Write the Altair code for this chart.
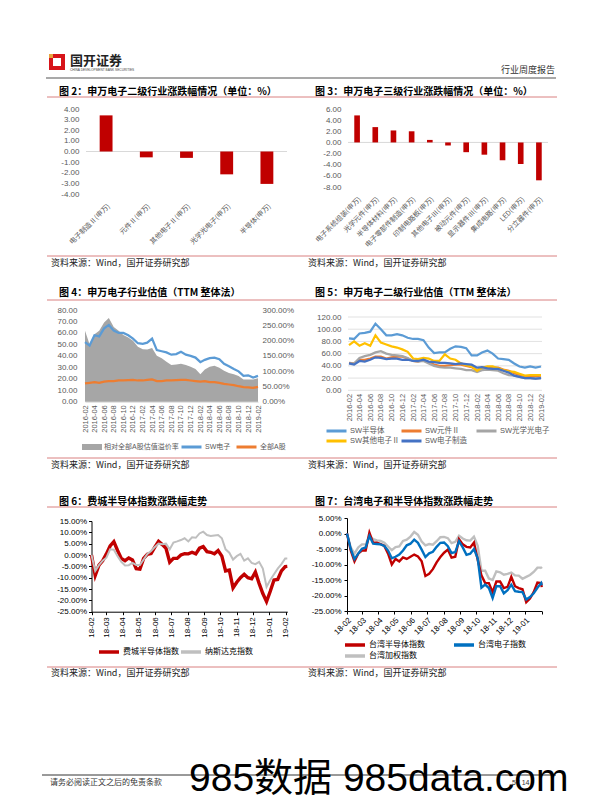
import altair as alt
import pandas as pd

W, H = 580, 792


def px(x):
    return x - 8


def py(y):
    return y - 8


CJK = "Noto Sans CJK SC"
LAT = "Liberation Sans, Noto Sans CJK SC"
TXT_GRAY = "#595959"
BAR_RED = "#C00000"
ACCENT = "#D98080"

# ---------------- texts ----------------
HEADER_NAME = "国开证券"
HEADER_SUB = "CHINA DEVELOPMENT BANK SECURITIES"
HEADER_RIGHT = "行业周度报告"
TITLE2 = "图 2：申万电子二级行业涨跌幅情况（单位：%）"
TITLE3 = "图 3：申万电子三级行业涨跌幅情况（单位：%）"
TITLE4 = "图 4：申万电子行业估值（TTM 整体法）"
TITLE5 = "图 5：申万电子二级行业估值（TTM 整体法）"
TITLE6 = "图 6：费城半导体指数涨跌幅走势"
TITLE7 = "图 7：台湾电子和半导体指数涨跌幅走势"
SOURCE = "资料来源：Wind，国开证券研究部"
FOOTER = "请务必阅读正文之后的免责条款"
PAGE_NO = "5 / 14"
WATERMARK = "985数据 985data.com"

# ---------------- data: fig 2 ----------------
fig2_cats = ["电子制造Ⅱ(申万)", "元件Ⅱ(申万)", "其他电子Ⅱ(申万)", "光学光电子(申万)", "半导体(申万)"]
fig2_vals = [3.40, -0.55, -0.60, -2.15, -3.05]

# ---------------- data: fig 3 ----------------
fig3_cats = ["电子系统组装(申万)", "光学元件(申万)", "半导体材料(申万)", "电子零部件制造(申万)",
             "印制电路板(申万)", "其他电子Ⅲ(申万)", "被动元件(申万)", "显示器件Ⅲ(申万)",
             "集成电路(申万)", "LED(申万)", "分立器件(申万)"]
fig3_vals = [4.85, 2.75, 2.15, 2.00, 0.45, -0.55, -1.75, -2.20, -3.20, -3.85, -6.80]

# ---------------- data: fig 4 / fig 5 (monthly, 2016-02 .. 2019-02) ----------------
months = [f"{2016 + (1 + i) // 12}-{(1 + i) % 12 + 1:02d}-01" for i in range(37)]
month_ticks = months[::2]

fig4_names = ["相对全部A股估值溢价率", "SW电子", "全部A股"]
fig4_prem = [232, 188, 221, 232, 259, 274, 244, 232, 218, 210,
             199, 180, 172, 171, 176, 150, 142, 131, 120, 122,
             124, 120, 114, 107, 90, 105, 114, 118, 111, 101,
             94, 90, 84, 73, 73, 73, 77]
fig4_sw = [52, 49, 58, 57, 64, 67, 62, 60, 60, 58,
           55, 51, 50.5, 51.5, 55, 45, 44, 43, 41, 41.5,
           43.5, 41, 40, 38.5, 34.5, 36.5, 38, 38.5, 37, 33,
           31, 28.5, 26.5, 22.5, 23, 21, 22.5]
fig4_all = [16, 16.5, 17, 16.5, 17.5, 18, 18, 18.5, 18.5, 18.8,
            19, 18.5, 18.5, 19, 19.5, 18, 18, 18.5, 18.5, 18.8,
            19, 19, 18.5, 18, 17.5, 18, 17, 17, 16.5, 15.5,
            15, 14.5, 13.5, 12.8, 12.5, 12, 13]

fig5_names = ["SW半导体", "SW元件Ⅱ", "SW光学光电子", "SW其他电子Ⅱ", "SW电子制造"]
fig5_colors = ["#5B9BD5", "#ED7D31", "#A5A5A5", "#FFC000", "#4472C4"]
fig5_semi = [85, 84, 93, 94, 96, 109, 100, 90, 90, 92,
             90, 86, 84, 84, 82, 70, 61, 62, 62, 68,
             72, 71, 69, 57, 57, 62, 65, 60, 52, 51,
             50, 44, 39, 37, 39, 37, 39]
fig5_comp = [45, 44, 50, 50, 52, 55, 55, 52, 54, 55,
             55, 52, 48, 47, 50, 46, 42, 40, 40, 41,
             42, 42, 40, 38, 33, 37, 38, 37, 37, 34,
             32, 28, 25, 23, 22, 23, 24]
fig5_optic = [44, 44, 53, 56, 58, 62, 64, 60, 58, 57,
              56, 53, 48, 47, 48, 44, 40, 38, 37, 37,
              36, 35, 33, 33, 30, 33, 34, 33, 32, 28,
              25, 24, 22, 20, 20, 19, 20]
fig5_other = [74, 80, 73, 77, 73, 90, 78, 75, 72, 70,
              67, 63, 52, 51, 53, 52, 48, 48, 59, 52,
              50, 44, 41, 39, 32, 37, 39, 39, 36, 33,
              31, 30, 27, 24, 25, 25, 25]
fig5_manuf = [44, 42, 48, 47, 50, 54, 53, 51, 52, 52,
              50, 50, 48, 48, 50, 47, 46, 45, 45, 44,
              43, 44, 43, 42, 37, 38, 36, 35, 35, 32,
              29, 24, 22, 20, 20, 19, 20]
fig5_grid = [0, 20, 40, 60, 80, 100, 120]

# ---------------- data: fig 6 / fig 7 (weekly, 2018-02 .. 2019-02) ----------------
weeks = [d.strftime("%Y-%m-%d") for d in pd.date_range("2018-02-01", periods=53, freq="7D")]
dates6 = weeks + ["2019-02-04"]
dates7 = weeks + ["2019-02-01"]
mticks = [f"{2018 + (1 + i) // 12}-{(1 + i) % 12 + 1:02d}-01" for i in range(13)]

fig6_names = ["费城半导体指数", "纳斯达克指数"]
fig6_sox = [0, -9, -4.5, -2.6, 0.5, 4, 5.9, 2, -1.5, -2.5,
            -1.3, -2.2, -6, -6.2, -1.5, 0.3, 0.7, 3.5, 6, 4.6,
            3, -3.2, -1.5, -1.5, 0, 0.6, 0.5, 1.2, 0.5, 3,
            3.7, 1.5, 1.2, 0.5, 2, -0.5, -7, -6.6, -14.5, -12,
            -10, -8.5, -10, -10.5, -7.5, -12.5, -17, -20.5, -16, -11,
            -10.8, -7, -5.1, -5]
fig6_ndx = [0, -7, -4.5, -2.5, -1.2, 2.5, 2.3, -0.5, -3, -4.6,
            -4.5, -3.5, -4.4, -4.4, -2, 0.5, 1.8, 3.5, 5, 4.7,
            5, 2.5, 5.5, 6, 6.6, 7.4, 6, 7.8, 7.6, 9.5,
            10.3, 8.8, 8.4, 8.6, 8.8, 7.4, 2.5, 1, -2, -0.5,
            0.5, -2.5, -1.5, -3.5, -4, -3, -6, -14, -11, -8.5,
            -6, -4, -1.5, -1.5]

fig7_names = ["台湾半导体指数", "台湾电子指数", "台湾加权指数"]
fig7_semi = [0, -5.5, -9, -6.5, -5.5, -5.5, 0.3, -3, -3, -3.4,
             -4, -6.5, -10, -8.2, -9, -7.7, -8.2, -7.5, -6.8, -7.4,
             -9, -13.7, -13, -11.5, -9.3, -7.6, -6.2, -5.2, -7.8, -7.5,
             -1.8, -3.5, -4.3, -4.5, -2.9, -8.5, -13.5, -16, -16, -18.9,
             -15.5, -15.5, -17.6, -17.2, -14, -17, -17.6, -18, -22.2, -21,
             -18.9, -15.8, -16, -17.3]
fig7_elec = [0, -5, -8.3, -6.5, -4.9, -4.5, -0.8, -3.3, -3.4, -3.5,
             -4, -5.5, -8, -7.5, -6.8, -5.5, -3.8, -3.3, -2, -3,
             -5.2, -7.6, -6.4, -5.9, -4.3, -3, -2.9, -4.1, -6.3, -6,
             -2.5, -4.5, -6.9, -6.5, -5, -8, -17.5, -16.5, -17.6, -20.8,
             -17, -17, -19.3, -18.3, -16.5, -18.6, -18.8, -18.9, -21.3, -20.5,
             -19.3, -17.5, -16, -16.7]
fig7_taiex = [0, -4.5, -6.5, -4.5, -3.5, -3.5, -0.7, -1.8, -2.2, -2.4,
              -3, -4.2, -5.4, -4.4, -4.2, -2.4, -2, -1, 0.5, -0.4,
              -2.6, -3.8, -3.4, -3.6, -2.5, -1.2, -1.1, -1.5, -3.1, -2.7,
              -0.7, -1.6, -2.2, -2.3, -1, -4, -12, -12, -14.5, -15,
              -12.2, -12.5, -13.3, -13, -12.6, -13.5, -13.6, -14.6, -14, -13.4,
              -12.4, -11, -11, -11.3]

NUM = "(datum.value < 0 ? '-' : '') + format(abs(datum.value), '.2f')"
PCT = NUM + " + '%'"
ONE = [{"k": 0}]


def dt(s):
    y, m, d = (int(v) for v in s.split("-"))
    return alt.DateTime(year=y, month=m, date=d, utc=True)


# ---------------- decoration helpers ----------------
def label(text, x, y, size, color="#000000", bold=False, font=CJK, align="left", baseline="middle"):
    return alt.Chart(alt.Data(values=[{"t": text}])).mark_text(
        align=align, baseline=baseline, font=font, fontSize=size, color=color,
        fontWeight="bold" if bold else "normal",
    ).encode(x=alt.value(px(x)), y=alt.value(py(y)), text="t:N")


def hline(x1, x2, y, color, width):
    return alt.Chart(alt.Data(values=ONE)).mark_rule(color=color, strokeWidth=width).encode(
        x=alt.value(px(x1)), x2=alt.value(px(x2)), y=alt.value(py(y)))


def box(x1, y1, x2, y2, color):
    return alt.Chart(alt.Data(values=ONE)).mark_rect(color=color).encode(
        x=alt.value(px(x1)), x2=alt.value(px(x2)), y=alt.value(py(y1)), y2=alt.value(py(y2)))


def legend(x, ycenter, cols, colpad, rowpad=1, size=8, color="#000000", sw=3,
           symtype="stroke", clip=9):
    return alt.Legend(orient="none", legendX=px(x), legendY=py(ycenter) - clip / 2,
                      direction="horizontal", columns=cols, title=None, symbolType=symtype,
                      symbolSize=400, symbolStrokeWidth=sw, labelFont=LAT, labelFontSize=size,
                      labelColor=color, labelOffset=2, columnPadding=colpad, rowPadding=rowpad,
                      clipHeight=clip, padding=0, gridAlign="all", symbolOpacity=1)


# ---------------- bar panels (flat layers, identical scales) ----------------
def bar_panel(cats, vals, x0, x1, ytop, ybot, dmin, dmax, step, pin):
    df = pd.DataFrame({"cat": cats, "val": vals})
    yscale = alt.Scale(domain=[dmin, dmax], range=[py(ybot), py(ytop)], nice=False)
    xscale = alt.Scale(domain=cats, range=[px(x0), px(x1)], paddingInner=pin, paddingOuter=pin / 2)
    yax = alt.Axis(orient="left", offset=-px(x0), values=list(range(dmin, dmax + 1, step)),
                   labelExpr=NUM, domain=False, ticks=False, grid=False, labelPadding=7,
                   labelFont=LAT, labelFontSize=8, labelColor=TXT_GRAY, title=None)
    xax = alt.Axis(orient="bottom", offset=py(ybot) - H, labelAngle=-45, domain=False,
                   ticks=False, grid=False, labelPadding=8, labelFont=CJK, labelFontSize=7,
                   labelColor=TXT_GRAY, title=None, labelOverlap=False)
    zero = alt.Chart(pd.DataFrame({"val": [0]})).mark_rule(color="#D9D9D9", strokeWidth=1).encode(
        y=alt.Y("val:Q", scale=yscale, axis=None), x=alt.value(px(x0)), x2=alt.value(px(x1)))
    bars = alt.Chart(df).mark_bar(color=BAR_RED).encode(
        x=alt.X("cat:N", sort=cats, scale=xscale, axis=xax),
        y=alt.Y("val:Q", scale=yscale, axis=yax))
    return [zero, bars]


fig2 = bar_panel(fig2_cats, fig2_vals, 86, 287, 109, 194, -4, 4, 1, 0.68)
fig3 = bar_panel(fig3_cats, fig3_vals, 348, 548, 109, 187, -8, 6, 2, 0.69)

# ---------------- fig 4 ----------------
x4scale = alt.Scale(type="utc", domain=[dt(months[0]), dt(months[-1])], range=[px(85), px(258)], nice=False)
x4axis = alt.Axis(orient="bottom", offset=py(401.7) - H, values=[dt(d) for d in month_ticks],
                  labelExpr="utcFormat(datum.value, '%Y-%m')", labelAngle=-90, labelOverlap=False,
                  labelFlush=False, ticks=False, domainColor="#D9D9D9", grid=False, labelPadding=3,
                  labelFont=LAT, labelFontSize=7.5, labelColor=TXT_GRAY, title=None)

df4a = pd.DataFrame({"date": months, "prem": fig4_prem, "name": fig4_names[0]})
area4 = alt.Chart(df4a).mark_area(opacity=1).encode(
    x=alt.X("date:T", scale=x4scale, axis=None),
    y=alt.Y("prem:Q", scale=alt.Scale(domain=[0, 300], range=[py(401.7), py(310)], nice=False),
            axis=alt.Axis(orient="right", offset=px(259) - W, values=list(range(0, 301, 50)),
                          labelExpr=PCT, domain=False, ticks=False, grid=False, labelPadding=3,
                          labelFont=LAT, labelFontSize=8, labelColor=TXT_GRAY, title=None)),
    fill=alt.Fill("name:N", scale=alt.Scale(domain=[fig4_names[0]], range=["#A6A6A6"]),
                  legend=legend(82, 447, 1, 4, size=7, color=TXT_GRAY, sw=0,
                                symtype="M-1,-0.3H1V0.3H-1Z")),
)

df4l = pd.DataFrame({"date": months * 2, "val": fig4_sw + fig4_all,
                     "series": [fig4_names[1]] * 37 + [fig4_names[2]] * 37})
lines4 = alt.Chart(df4l).mark_line(strokeWidth=2.25).encode(
    x=alt.X("date:T", scale=x4scale, axis=x4axis),
    y=alt.Y("val:Q", scale=alt.Scale(domain=[0, 80], range=[py(401.7), py(310)], nice=False),
            axis=alt.Axis(orient="left", offset=-px(83), values=list(range(0, 81, 10)),
                          labelExpr=NUM, domain=False, ticks=False, grid=False, labelPadding=6,
                          labelFont=LAT, labelFontSize=8, labelColor=TXT_GRAY, title=None)),
    stroke=alt.Stroke("series:N", scale=alt.Scale(domain=fig4_names[1:], range=["#5B9BD5", "#ED7D31"]),
                      legend=legend(180, 447, 2, 4, size=7, color=TXT_GRAY, sw=3)),
)

# ---------------- fig 5 ----------------
x5scale = alt.Scale(type="utc", domain=[dt(months[0]), dt(months[-1])], range=[px(349), px(541)], nice=False)
y5scale = alt.Scale(domain=[0, 120], range=[py(390.3), py(317)], nice=False)
x5axis = alt.Axis(orient="bottom", offset=py(390.3) - H, values=[dt(d) for d in month_ticks],
                  labelExpr="utcFormat(datum.value, '%Y-%m')", labelAngle=-90, labelOverlap=False,
                  labelFlush=False, ticks=False, domain=False, grid=False, labelPadding=3,
                  labelFont=LAT, labelFontSize=7.5, labelColor=TXT_GRAY, title=None)
y5axis = alt.Axis(orient="left", offset=-px(347), values=list(range(0, 121, 20)), labelExpr=NUM,
                  domain=False, ticks=False, grid=False, labelPadding=6, labelFont=LAT,
                  labelFontSize=8, labelColor=TXT_GRAY, title=None)
df5 = pd.DataFrame({
    "date": months * 5,
    "val": fig5_semi + fig5_comp + fig5_optic + fig5_other + fig5_manuf,
    "series": sum([[n] * 37 for n in fig5_names], []),
})
grid5 = alt.Chart(pd.DataFrame({"val": fig5_grid})).mark_rule(color="#D9D9D9", strokeWidth=0.8).encode(
    y=alt.Y("val:Q", scale=y5scale, axis=y5axis), x=alt.value(px(348)), x2=alt.value(px(542)))
fig5 = [grid5]
for i, name in enumerate(fig5_names):
    fig5.append(
        alt.Chart(df5).transform_filter(alt.datum.series == name).mark_line(strokeWidth=2.25).encode(
            x=alt.X("date:T", scale=x5scale, axis=x5axis if i == 0 else None),
            y=alt.Y("val:Q", scale=y5scale, axis=None),
            stroke=alt.Stroke("series:N", scale=alt.Scale(domain=fig5_names, range=fig5_colors),
                              legend=legend(325, 431, 3, 0, rowpad=1, size=7.5, color=TXT_GRAY, sw=3)
                              if i == 0 else None),
        ))

# ---------------- fig 6 ----------------
x6scale = alt.Scale(type="utc", domain=[dt(dates6[0]), dt(dates6[-1])], range=[px(91.5), px(287.3)], nice=False)
y6scale = alt.Scale(domain=[-25, 15], range=[py(611.7), py(521)], nice=False)
x6axis = alt.Axis(orient="bottom", offset=py(611.7) - H, values=[dt(d) for d in mticks],
                  labelExpr="utcFormat(datum.value, '%y-%m')", labelAngle=-90, labelOverlap=False,
                  labelFlush=False, ticks=True, tickSize=3, tickColor="#000000", domainColor="#000000",
                  grid=False, labelPadding=2, labelFont=LAT, labelFontSize=8, labelColor="#000000",
                  title=None)
y6axis = alt.Axis(orient="left", offset=-px(91.5), values=list(range(-25, 16, 5)), labelExpr=PCT,
                  ticks=True, tickSize=3, tickColor="#000000", domainColor="#000000", grid=False,
                  labelPadding=2, labelFont=LAT, labelFontSize=8, labelColor="#000000", title=None)
df6 = pd.DataFrame({"date": dates6 * 2, "val": fig6_sox + fig6_ndx,
                    "series": [fig6_names[0]] * len(dates6) + [fig6_names[1]] * len(dates6)})
fig6 = []
for i, (name, w) in enumerate(zip(fig6_names, [3.4, 2.0])):
    fig6.append(
        alt.Chart(df6).transform_filter(alt.datum.series == name).mark_line(strokeWidth=w).encode(
            x=alt.X("date:T", scale=x6scale, axis=x6axis if i == 0 else None),
            y=alt.Y("val:Q", scale=y6scale, axis=y6axis if i == 0 else None),
            stroke=alt.Stroke("series:N", scale=alt.Scale(domain=fig6_names, range=["#C00000", "#BFBFBF"]),
                              legend=legend(97, 652, 2, 0, size=8, sw=3.5) if i == 0 else None),
        ))

# ---------------- fig 7 ----------------
x7scale = alt.Scale(type="utc", domain=[dt(dates7[0]), dt(dates7[-1])], range=[px(347), px(541.7)], nice=False)
y7scale = alt.Scale(domain=[-25, 5], range=[py(611), py(518)], nice=False)
x7axis = alt.Axis(orient="bottom", offset=py(611) - H, values=[dt(d) for d in mticks],
                  labelExpr="utcFormat(datum.value, '%y-%m') == '19-02' ? '' : utcFormat(datum.value, '%y-%m')",
                  labelAngle=-45, labelOverlap=False, labelFlush=False, ticks=True, tickSize=3,
                  tickColor="#000000", domainColor="#000000", grid=False, labelPadding=2,
                  labelFont=LAT, labelFontSize=8, labelColor="#000000", title=None)
y7axis = alt.Axis(orient="left", offset=-px(347), values=list(range(-25, 6, 5)), labelExpr=PCT,
                  ticks=True, tickSize=3, tickColor="#000000", domainColor="#000000", grid=False,
                  labelPadding=3, labelFont=LAT, labelFontSize=8, labelColor="#000000", title=None)
df7 = pd.DataFrame({"date": dates7 * 3, "val": fig7_semi + fig7_elec + fig7_taiex,
                    "series": sum([[n] * len(dates7) for n in fig7_names], [])})
fig7 = []
for i, name in enumerate([fig7_names[2], fig7_names[0], fig7_names[1]]):
    fig7.append(
        alt.Chart(df7).transform_filter(alt.datum.series == name).mark_line(strokeWidth=2.4).encode(
            x=alt.X("date:T", scale=x7scale, axis=x7axis if i == 0 else None),
            y=alt.Y("val:Q", scale=y7scale, axis=y7axis if i == 0 else None),
            stroke=alt.Stroke("series:N",
                              scale=alt.Scale(domain=fig7_names, range=["#C00000", "#0070C0", "#BFBFBF"]),
                              legend=legend(343, 645, 2, 27, rowpad=2, size=8, sw=3.5) if i == 0 else None),
        ))

# ---------------- page decorations ----------------
decor = [
    box(49, 54, 65, 70, "#D7141A"),
    box(53, 58, 61, 66, "#FFFFFF"),
    box(49, 54, 53, 58, "#E8A33D"),
    label(HEADER_NAME, 70, 61, 13, color="#222222", bold=True),
    label(HEADER_SUB, 70, 70, 3.2, color="#444444", font=LAT),
    label(HEADER_RIGHT, 555, 70, 9, color="#333333", align="right"),
    hline(46, 556, 78, "#8C8C8C", 1.5),
]
rows = [(92, 97, 256, 263, TITLE2, TITLE3), (293, 300, 458, 465, TITLE4, TITLE5),
        (502, 507, 667, 673, TITLE6, TITLE7)]
for ty, uy, sy, st, tl, tr in rows:
    decor += [
        label(tl, 59, ty, 10, bold=True),
        label(tr, 315, ty, 10, bold=True),
        hline(47, 557, uy, ACCENT, 1),
        hline(47, 557, sy, ACCENT, 1),
        label(SOURCE, 51, st, 9, color="#222222"),
        label(SOURCE, 308, st, 9, color="#222222"),
    ]
footer = [
    hline(42, 556, 775, "#000000", 0.8),
    label(FOOTER, 50, 783, 8, color="#333333"),
    label(PAGE_NO, 512, 783, 7, color="#333333", font=LAT),
    label(WATERMARK, 189, 791, 39, font=LAT, baseline="alphabetic"),
]

chart = alt.layer(
    *decor, *fig2, *fig3, area4, lines4, *fig5, *fig6, *fig7, *footer
).resolve_scale(
    x="independent", y="independent", stroke="independent", fill="independent"
).properties(
    width=W, height=H, autosize=alt.AutoSizeParams(type="none"), padding=0, background="white"
).configure_view(stroke=None)

chart.save("out.html", embed_options={"renderer": "svg", "actions": False})
